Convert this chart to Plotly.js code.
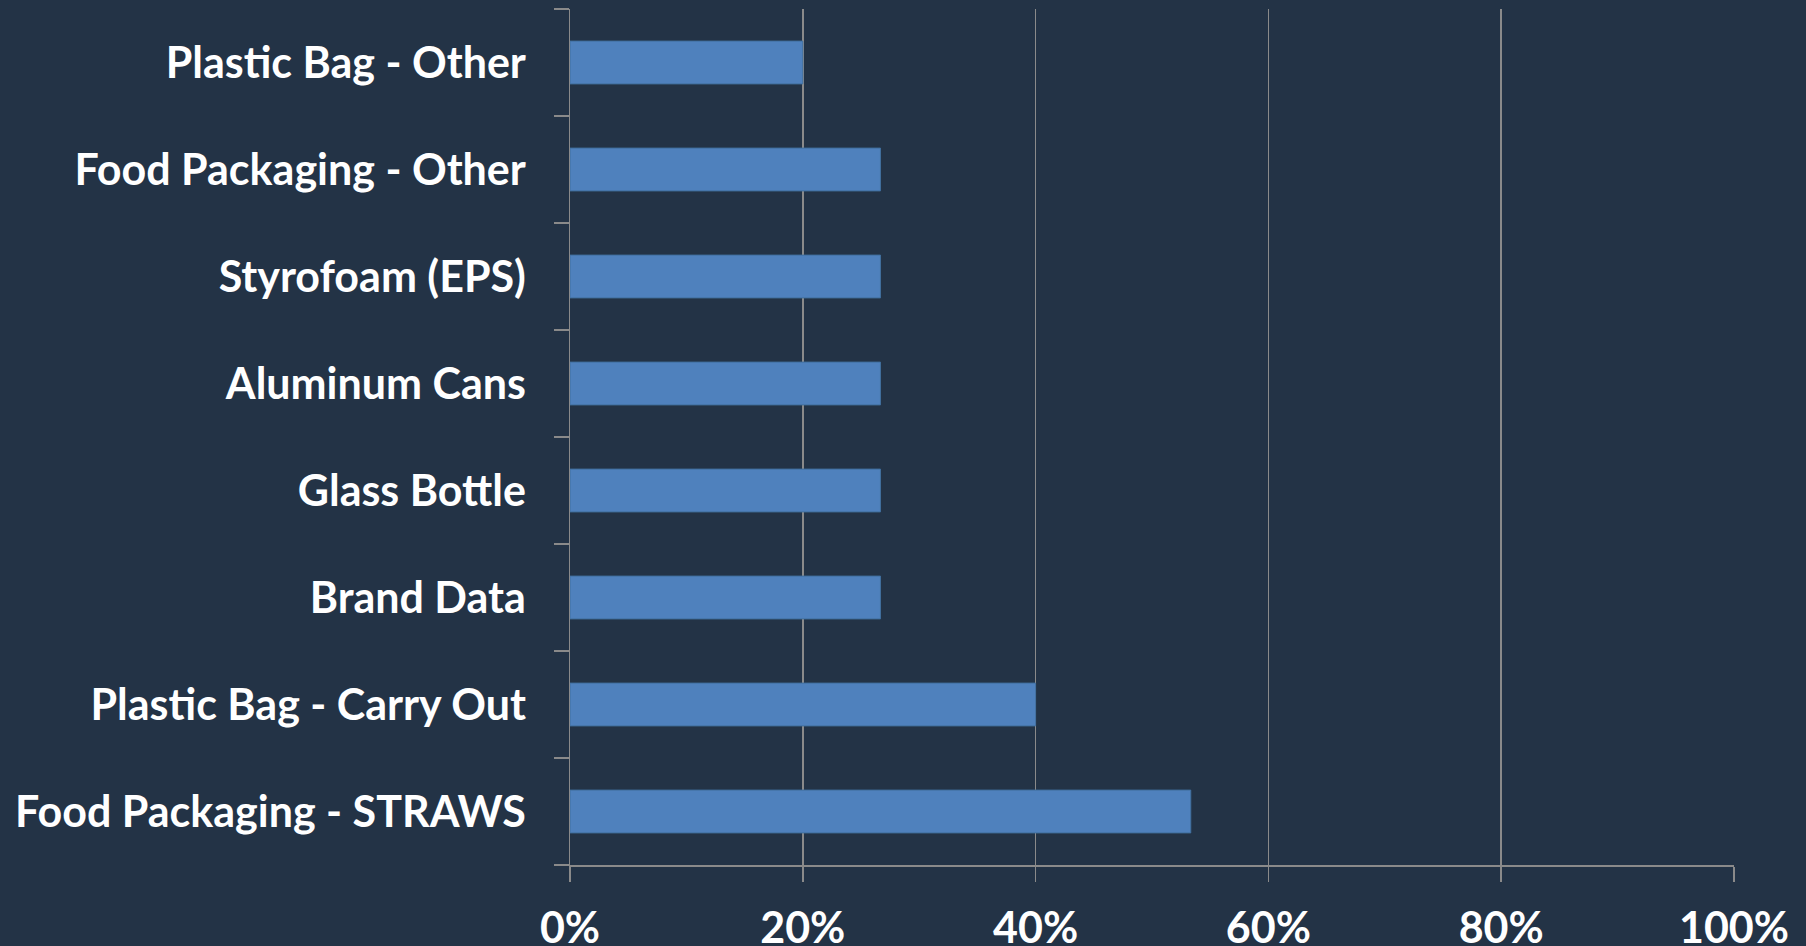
<!DOCTYPE html>
<html>
<head>
<meta charset="utf-8">
<script src="https://cdn.plot.ly/plotly-3.0.1.min.js"></script>
<style>
html,body{margin:0;padding:0;background:#233346;}
#chart{width:1806px;height:946px;}
</style>
</head>
<body>
<div id="chart"></div>
<script>
const categories = [
  "Food Packaging - STRAWS",
  "Plastic Bag - Carry Out",
  "Brand Data",
  "Glass Bottle",
  "Aluminum Cans",
  "Styrofoam (EPS)",
  "Food Packaging - Other",
  "Plastic Bag - Other"
];
const shares = [0.5333, 0.40, 0.2667, 0.2667, 0.2667, 0.2667, 0.2667, 0.20];
const xTickValues = [0, 0.2, 0.4, 0.6, 0.8, 1.0];
const xTickLabels = ["0%", "20%", "40%", "60%", "80%", "100%"];

const axisGray = "#8a8a8a";
const yLabelFont = {family: "Lato, 'Open Sans', sans-serif", size: 43, color: "#ffffff", weight: 700};
const xLabelFont = {family: "Lato, 'Open Sans', sans-serif", size: 43, color: "#ffffff", weight: 700};

Plotly.newPlot("chart", [{
  type: "bar",
  orientation: "h",
  y: categories,
  x: shares,
  marker: {color: "#4F81BD", line: {color: "#41709f", width: 1}},
  hoverinfo: "x+y"
}], {
  width: 1806,
  height: 946,
  paper_bgcolor: "#233346",
  plot_bgcolor: "#233346",
  margin: {l: 570, r: 72, t: 9, b: 81},
  bargap: 0.6,
  showlegend: false,
  xaxis: {
    range: [0, 1],
    tickvals: xTickValues,
    ticktext: xTickLabels,
    showgrid: true,
    gridcolor: axisGray,
    gridwidth: 1.5,
    zeroline: false,
    showline: true,
    linecolor: axisGray,
    linewidth: 1.5,
    ticks: "outside",
    ticklen: 15,
    tickwidth: 1.5,
    tickcolor: axisGray,
    tickfont: xLabelFont,
    ticklabelstandoff: 10
  },
  yaxis: {
    type: "category",
    range: [-0.5, 7.5],
    showgrid: false,
    zeroline: false,
    showline: true,
    linecolor: axisGray,
    linewidth: 1.5,
    ticks: "outside",
    tickson: "boundaries",
    ticklen: 15,
    tickwidth: 1.5,
    tickcolor: axisGray,
    tickfont: yLabelFont,
    ticklabelstandoff: 34
  }
}, {displayModeBar: false, staticPlot: true});
</script>
</body>
</html>
